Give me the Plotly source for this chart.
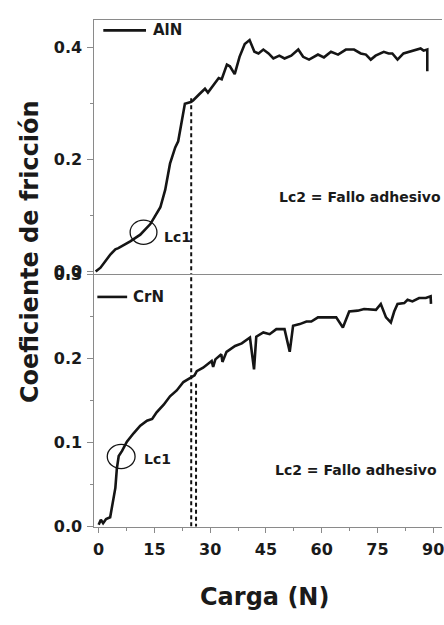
import plotly.graph_objects as go

# ---- data ----
aln_x = [-0.8, 0.5, 3.2, 4.5, 5.3, 8.5, 11.2, 13.9, 16.6, 17.9, 19.2, 20.6, 21.4, 22.4, 23.2,
         24.8, 25.4, 27.2, 28.6, 29.4, 31.3, 32.3, 33.1, 34.5, 35.3, 36.6, 37.9, 39.3, 40.6,
         41.9, 43.0, 44.3, 45.7, 47.0, 48.6, 50.0, 51.8, 53.7, 55.0, 56.6, 59.0, 60.6, 62.5,
         64.4, 66.5, 68.7, 70.5, 71.9, 73.2, 74.5, 76.7, 78.0, 79.0, 80.4, 82.0, 84.7, 86.6,
         87.4, 88.4, 88.4]
aln_y = [0.0, 0.007, 0.031, 0.040, 0.042, 0.054, 0.066, 0.085, 0.115, 0.146, 0.193, 0.222, 0.233,
         0.275, 0.300, 0.303, 0.306, 0.318, 0.327, 0.320, 0.337, 0.346, 0.344, 0.370, 0.367,
         0.353, 0.384, 0.407, 0.414, 0.393, 0.390, 0.397, 0.390, 0.381, 0.386, 0.381, 0.386,
         0.397, 0.384, 0.379, 0.388, 0.383, 0.393, 0.388, 0.397, 0.397, 0.390, 0.388, 0.379,
         0.386, 0.393, 0.390, 0.390, 0.379, 0.390, 0.395, 0.399, 0.395, 0.397, 0.358]

crn_x = [0.0, 0.6, 1.2, 2.0, 3.1, 3.5, 4.5, 4.9, 5.4, 6.3, 7.6, 9.4, 11.2, 13.0, 14.4, 15.6,
         17.5, 19.2, 21.0, 22.8, 24.7, 25.8, 26.4, 28.1, 30.4, 30.8, 31.4, 33.0, 33.3, 34.4,
         36.7, 38.5, 40.7, 41.8, 42.4, 44.3, 46.0, 47.8, 50.0, 51.4, 52.3, 54.1, 55.9, 57.2,
         59.0, 60.7, 63.9, 65.7, 67.4, 69.7, 71.4, 74.6, 75.9, 77.3, 78.6, 79.5, 80.4, 82.2,
         83.1, 84.4, 86.2, 88.0, 89.3, 89.4]
crn_y = [0.002, 0.008, 0.004, 0.009, 0.011, 0.020, 0.046, 0.069, 0.084, 0.090, 0.101, 0.111,
         0.120, 0.126, 0.128, 0.136, 0.145, 0.155, 0.162, 0.172, 0.177, 0.180, 0.185, 0.189,
         0.197, 0.190, 0.199, 0.205, 0.196, 0.208, 0.215, 0.218, 0.225, 0.187, 0.226, 0.231,
         0.229, 0.235, 0.235, 0.208, 0.239, 0.241, 0.244, 0.244, 0.249, 0.249, 0.249, 0.237,
         0.256, 0.257, 0.259, 0.258, 0.265, 0.249, 0.243, 0.256, 0.265, 0.266, 0.270, 0.268,
         0.272, 0.272, 0.274, 0.265]

x_ticks = [0, 15, 30, 45, 60, 75, 90]
top_y_ticks = [0.0, 0.2, 0.4]
bot_y_ticks = [0.0, 0.1, 0.2, 0.3]
lc2_load = 24.9
lc2_load_b = 26.2

FONT = "DejaVu Sans"
TXT = "#1a1a1a"
AX = "#8a8a8a"

fig = go.Figure()
fig.add_trace(go.Scatter(x=aln_x, y=aln_y, mode="lines", xaxis="x2", yaxis="y2",
                         line=dict(color="#151515", width=2.6), showlegend=False))
fig.add_trace(go.Scatter(x=crn_x, y=crn_y, mode="lines", xaxis="x", yaxis="y",
                         line=dict(color="#151515", width=2.6), showlegend=False))

# dashed lines
fig.add_trace(go.Scatter(x=[lc2_load, lc2_load], y=[0.31, -0.01], mode="lines", xaxis="x2", yaxis="y2",
                         line=dict(color="#111", width=2, dash="4px,3px"), showlegend=False, cliponaxis=False))
fig.add_trace(go.Scatter(x=[lc2_load, lc2_load], y=[0.305, 0.0], mode="lines", xaxis="x", yaxis="y",
                         line=dict(color="#111", width=2, dash="4px,3px"), showlegend=False))
fig.add_trace(go.Scatter(x=[lc2_load_b, lc2_load_b], y=[0.170, 0.0], mode="lines", xaxis="x", yaxis="y",
                         line=dict(color="#111", width=2, dash="4px,3px"), showlegend=False))

tickfont = dict(family=FONT, size=16, color=TXT, weight="bold")
common_x = dict(range=[-1.15, 92.36], domain=[94/444, 1.0], showgrid=False, zeroline=False,
                showline=True, linecolor=AX, linewidth=1)
fig.update_layout(
    width=444, height=625, margin=dict(l=0, r=0, t=0, b=0),
    paper_bgcolor="white", plot_bgcolor="white",
    xaxis=dict(**common_x, anchor="y", tickvals=x_ticks, ticks="outside", ticklen=5,
               tickcolor=AX, tickfont=tickfont, ticklabelstandoff=2, ticklabeloverflow="allow",
               minor=dict(dtick=7.5, tick0=0, ticks="outside", ticklen=3, tickcolor=AX)),
    xaxis2=dict(**common_x, anchor="y2", matches="x", showticklabels=False, ticks="", mirror=True),
    yaxis=dict(domain=[1-534/625, 1-273/625], range=[-0.00115, 0.30115], anchor="x",
               showgrid=False, zeroline=False, showline=True, linecolor=AX, linewidth=1,
               tickvals=bot_y_ticks, tickformat=".1f", ticks="outside", ticklen=6, tickcolor=AX,
               tickfont=tickfont, ticklabelstandoff=2,
               minor=dict(dtick=0.05, tick0=0, ticks="outside", ticklen=3, tickcolor=AX)),
    yaxis2=dict(domain=[1-273/625, 1-12/625], range=[-0.0035, 0.4504], anchor="x2",
                showgrid=False, zeroline=False, showline=True, linecolor=AX, linewidth=1,
                tickvals=top_y_ticks, tickformat=".1f", ticks="outside", ticklen=6, tickcolor=AX,
                tickfont=tickfont, ticklabelstandoff=2,
                minor=dict(dtick=0.1, tick0=0, ticks="outside", ticklen=3, tickcolor=AX)),
)

# Lc1 circles
fig.add_shape(type="circle", xref="x2", yref="y2", x0=8.47, x1=15.68, y0=0.0487, y1=0.0922,
              line=dict(color="#151515", width=1.3))
fig.add_shape(type="circle", xref="x", yref="y", x0=2.32, x1=9.8, y0=0.069, y1=0.0977,
              line=dict(color="#151515", width=1.3))

# legend keys
fig.add_shape(type="line", xref="paper", yref="paper", x0=103/444, x1=146/444,
              y0=1-23/625, y1=1-23/625, line=dict(color="#151515", width=2.6))
fig.add_shape(type="line", xref="paper", yref="paper", x0=97/444, x1=127/444,
              y0=1-297/625, y1=1-297/625, line=dict(color="#151515", width=2.6))

afont = dict(family=FONT, size=14, color=TXT, weight="bold")
ann = [
    dict(text="AlN", x=151/444, y=1-23/625, xref="paper", yref="paper", xanchor="left",
         yanchor="middle", font=dict(family=FONT, size=15, color=TXT, weight="bold")),
    dict(text="CrN", x=131/444, y=1-297/625, xref="paper", yref="paper", xanchor="left",
         yanchor="middle", font=dict(family=FONT, size=15, color=TXT, weight="bold")),
    dict(text="Lc1", x=17.0, y=0.0626, xref="x2", yref="y2", xanchor="left", yanchor="middle", font=afont),
    dict(text="Lc1", x=11.6, y=0.080, xref="x", yref="y", xanchor="left", yanchor="middle", font=afont),
    dict(text="Lc2 = Fallo adhesivo", x=48.0, y=0.134, xref="x2", yref="y2", xanchor="left",
         yanchor="middle", font=afont),
    dict(text="Lc2 = Fallo adhesivo", x=47.0, y=0.0667, xref="x", yref="y", xanchor="left",
         yanchor="middle", font=afont),
    dict(text="Carga (N)", x=265/444, y=1-605/625, xref="paper", yref="paper", xanchor="center",
         yanchor="middle", font=dict(family=FONT, size=24, color=TXT, weight="bold")),
    dict(text="Coeficiente de fricción", x=29/444, y=1-250/625, xref="paper", yref="paper",
         xanchor="center", yanchor="middle", textangle=-90,
         font=dict(family=FONT, size=24, color=TXT, weight="bold")),
]
for a in ann:
    a["showarrow"] = False
    fig.add_annotation(**a)

fig.write_html("out.html")
